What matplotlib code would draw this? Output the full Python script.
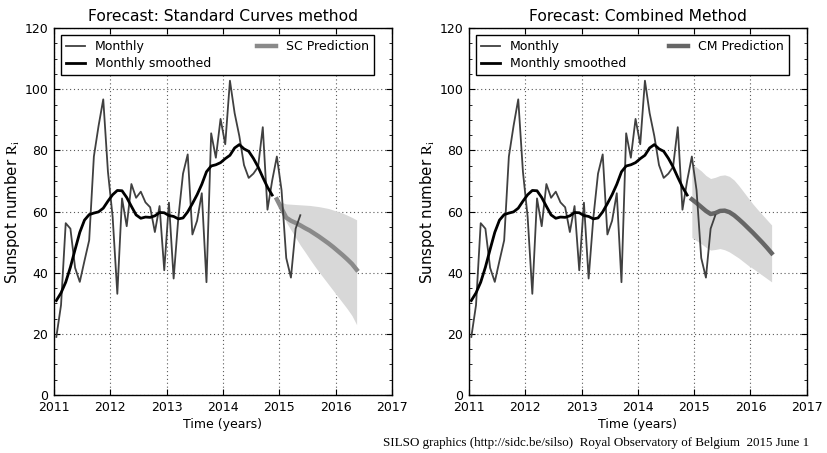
# Sunspot forecast panels: Standard Curves vs Combined Method
import numpy as np
import matplotlib
matplotlib.use('Agg')
import matplotlib.pyplot as plt
import matplotlib as mpl
from matplotlib.ticker import MultipleLocator

mpl.rcParams.update({'font.size': 9, 'font.family': 'DejaVu Sans',
                     'mathtext.fontset': 'stix'})

# monthly sunspot number, Jan 2011 .. May 2015
monthly = [19.0, 29.4, 56.2, 54.4, 41.6, 37.0, 43.9, 50.6, 78.0, 88.0, 96.7, 73.0,
           58.3, 33.1, 64.3, 55.2, 69.0, 64.5, 66.5, 63.0, 61.4, 53.3, 61.8, 40.8,
           62.9, 38.1, 57.9, 72.4, 78.7, 52.5, 57.0, 66.0, 36.9, 85.6, 77.6, 90.3,
           82.0, 102.8, 92.2, 84.7, 75.2, 71.0, 72.4, 74.6, 87.6, 60.6, 70.1, 78.0,
           67.0, 44.8, 38.4, 54.4, 58.8]

# 13-month smoothed, Jan 2011 .. Nov 2014
smoothed = [30.9, 33.4, 36.9, 41.8, 47.6, 53.2, 57.2, 59.0, 59.5, 59.9, 61.1, 63.4,
            65.5, 66.9, 66.8, 64.6, 61.7, 58.9, 57.8, 58.2, 58.1, 58.6, 59.7, 59.6,
            58.7, 58.4, 57.6, 57.9, 59.9, 62.6, 65.5, 68.9, 73.0, 74.9, 75.3, 76.0,
            77.3, 78.4, 80.8, 81.9, 80.5, 79.7, 77.4, 74.6, 71.2, 68.0, 65.4]

# predictions, Dec 2014 .. May 2016
sc_pred = [64.0, 61.0, 58.0, 57.0, 56.3, 55.5, 54.6, 53.8, 52.8, 51.8, 50.7, 49.6,
           48.4, 47.1, 45.8, 44.4, 42.9, 41.0]
sc_high = [64.0, 63.0, 62.5, 62.4, 62.3, 62.2, 62.1, 62.0, 61.8, 61.6, 61.3, 61.0,
           60.5, 60.0, 59.5, 58.8, 58.1, 57.3]
sc_low = [64.0, 60.0, 56.5, 54.0, 51.5, 49.0, 46.8, 44.5, 42.3, 40.2, 38.2, 36.2,
          34.2, 32.2, 30.2, 28.2, 26.0, 23.0]

cm_pred = [64.0, 62.8, 61.5, 60.2, 59.2, 59.5, 60.2, 60.3, 59.8, 58.8, 57.5, 56.1,
           54.6, 53.1, 51.5, 49.9, 48.2, 46.4]
cm_high = [75.5, 74.5, 73.3, 71.8, 70.8, 71.2, 71.8, 72.0, 71.5, 70.3, 68.5, 66.5,
           64.5, 62.5, 60.7, 59.0, 57.3, 55.6]
cm_low = [51.5, 50.5, 49.5, 48.3, 47.4, 47.6, 47.9, 47.5, 46.8, 45.8, 44.8, 43.6,
          42.4, 41.4, 40.3, 39.2, 38.1, 37.0]

t_monthly = 2011 + (np.arange(len(monthly)) + 0.5) / 12
t_smooth = 2011 + (np.arange(len(smoothed)) + 0.5) / 12
t_pred = 2014 + (np.arange(len(sc_pred)) + 11.5) / 12


def draw_panel(ax, title, label, pred, low, high, pcolor):
    ax.fill_between(t_pred, low, high, color='#d8d8d8', lw=0, zorder=1)
    ax.plot(t_monthly, monthly, color='#404040', lw=1.3, label='Monthly', zorder=3)
    ax.plot(t_smooth, smoothed, color='k', lw=2.0, label='Monthly smoothed', zorder=4)
    ax.plot(t_pred, pred, color=pcolor, lw=3.2, label=label, zorder=2)
    ax.set_xlim(2011, 2017)
    ax.set_ylim(0, 120)
    ax.xaxis.set_major_locator(MultipleLocator(1))
    ax.yaxis.set_major_locator(MultipleLocator(20))
    ax.yaxis.set_minor_locator(MultipleLocator(5))
    ax.tick_params(which='both', direction='in', top=True, right=True)
    ax.tick_params(which='major', length=4, pad=4)
    ax.tick_params(which='minor', length=2)
    ax.grid(True, which='major', color='0.35', linestyle=(0, (1, 2.5)), lw=0.8)
    ax.set_axisbelow(True)
    ax.set_title(title, fontsize=11.2, pad=5)
    ax.set_xlabel('Time (years)', labelpad=3)
    ax.set_ylabel(r'Sunspot number $\mathrm{R_i}$', fontsize=10.8, labelpad=2)
    leg = ax.legend(loc='upper left', ncol=2, mode='expand',
                    bbox_to_anchor=(0.021, 0.86, 0.926, 0.12), borderaxespad=0,
                    fancybox=False, framealpha=1, edgecolor='k',
                    handlelength=1.5, fontsize=9, borderpad=0.4, labelspacing=0.3)
    leg.get_frame().set_linewidth(1.0)
    for s in ax.spines.values():
        s.set_linewidth(1.0)


fig = plt.figure(figsize=(8.28, 4.53), dpi=100)
ax1 = fig.add_axes([0.0652, 0.128, 0.408, 0.810])
ax2 = fig.add_axes([0.5664, 0.128, 0.408, 0.810])

draw_panel(ax1, 'Forecast: Standard Curves method', 'SC Prediction',
           sc_pred, sc_low, sc_high, '#8a8a8a')
draw_panel(ax2, 'Forecast: Combined Method', 'CM Prediction',
           cm_pred, cm_low, cm_high, '#666666')

fig.text(0.977, 0.008,
         'SILSO graphics (http://sidc.be/silso)  Royal Observatory of Belgium  2015 June 1',
         ha='right', va='bottom', fontsize=9.4, family='Liberation Serif')

fig.savefig('out.png', dpi=100)
